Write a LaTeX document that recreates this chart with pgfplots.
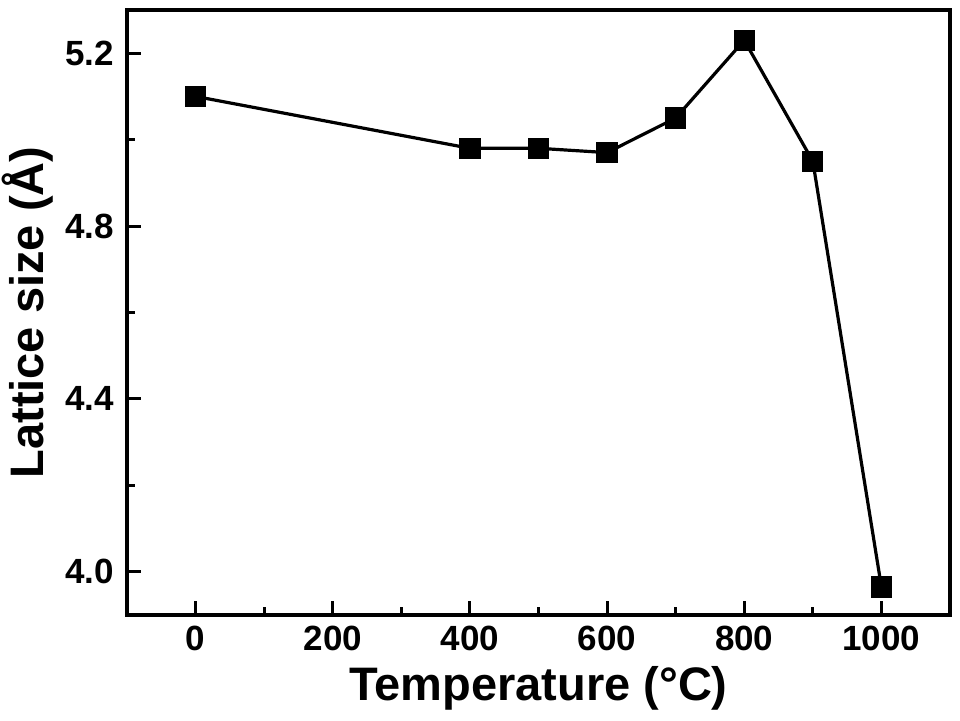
\documentclass[border=0pt]{standalone}
\usepackage{fontspec}
\setmainfont{Liberation Sans}
\usepackage{pgfplots}
\pgfplotsset{compat=1.18}
\begin{document}
\begin{tikzpicture}
\path[use as bounding box] (-63.5pt,-52.5pt) rectangle (416.5pt,307.5pt);
\begin{axis}[
  at={(0,0)}, anchor=south west,
  scale only axis, width=411.5pt, height=302.5pt,
  xmin=-100, xmax=1100, ymin=3.9, ymax=5.3,
  xtick={0,200,...,1000}, ytick={4.0,4.4,4.8,5.2},
  minor xtick={100,300,...,900}, minor ytick={4.2,4.6,5.0},
  tick align=inside, xtick pos=bottom, ytick pos=left,
  major tick length=7pt, minor tick length=4pt,
  every tick/.style={line width=1.5pt, black},
  axis line style={line width=2pt},
  /pgf/number format/assume math mode=true,
  /pgf/number format/1000 sep={},
  yticklabel style={/pgf/number format/fixed, /pgf/number format/fixed zerofill, /pgf/number format/precision=1, xshift=-3pt},
  tick label style={font=\fontsize{17.5}{20}\selectfont\bfseries},
  label style={font=\fontsize{23.5}{28}\selectfont\bfseries},
  xlabel={Temperature (°C)},
  ylabel={Lattice size (Å)},
  xlabel style={yshift=-1pt},
  ylabel style={yshift=-1pt},
  xticklabel style={yshift=-2pt},
]
\addplot[black, line width=1.6pt, mark=square*, mark size=4.5pt, mark options={solid}] coordinates {
(0,5.10) (400,4.98) (500,4.98) (600,4.97) (700,5.05) (800,5.23) (900,4.95) (1000,3.965)
};
\end{axis}
\end{tikzpicture}
\end{document}
